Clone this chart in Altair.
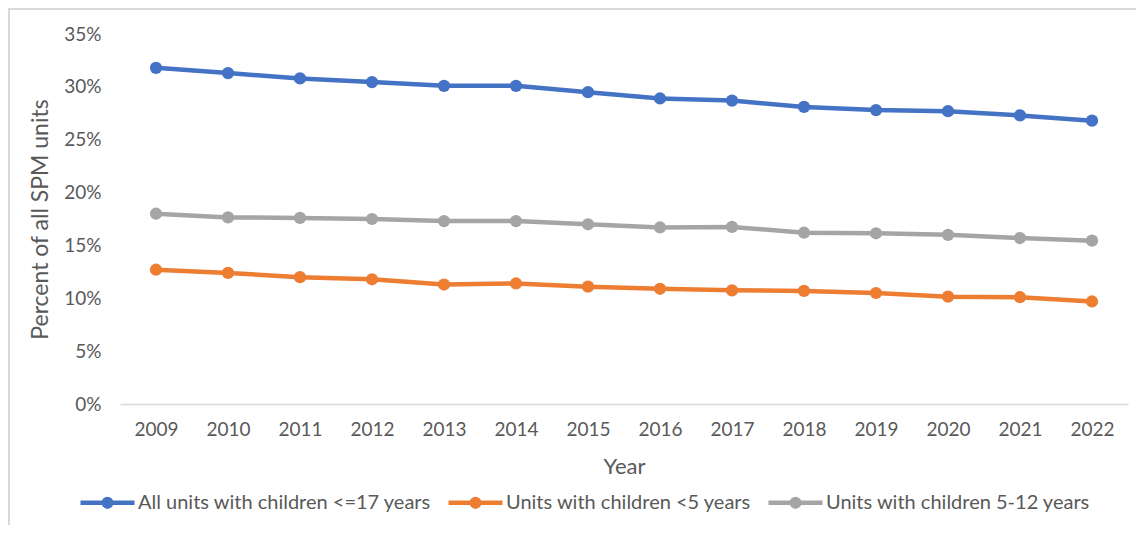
import altair as alt
import pandas as pd

years = [str(y) for y in range(2009, 2023)]
series_names = [
    "All units with children <=17 years",
    "Units with children <5 years",
    "Units with children 5-12 years",
]
all_units = [31.8, 31.3, 30.8, 30.45, 30.1, 30.1, 29.5, 28.9, 28.7, 28.1, 27.8, 27.7, 27.3, 26.8]
under5 = [12.7, 12.4, 12.0, 11.8, 11.3, 11.4, 11.1, 10.9, 10.75, 10.7, 10.5, 10.15, 10.1, 9.7]
age5_12 = [18.0, 17.65, 17.6, 17.5, 17.3, 17.3, 17.0, 16.7, 16.75, 16.2, 16.15, 16.0, 15.7, 15.45]
colors = ["#4472C4", "#ED7D31", "#A5A5A5"]

rows = []
for name, vals in zip(series_names, [all_units, under5, age5_12]):
    for yr, v in zip(years, vals):
        rows.append({"Year": yr, "Series": name, "Value": v})
df = pd.DataFrame(rows)

FONT = "Lato"
TXT = "#595959"

x = alt.X(
    "Year:N",
    sort=years,
    scale=alt.Scale(type="point", padding=0.5),
    axis=alt.Axis(
        title="Year", labelAngle=0, ticks=False, domainColor="#d9d9d9", domainWidth=1.5,
        labelPadding=16, labelFontSize=19, labelColor=TXT, labelFont=FONT,
        titleFontSize=22, titleFont=FONT, titleColor=TXT, titleFontWeight="normal",
        titleY=62, titleBaseline="middle", grid=False,
    ),
)
y = alt.Y(
    "Value:Q",
    scale=alt.Scale(domain=[0, 35], nice=False),
    axis=alt.Axis(
        title="Percent of all SPM units", values=[0, 5, 10, 15, 20, 25, 30, 35],
        labelExpr="datum.value + '%'", domain=False, ticks=False, grid=False,
        labelPadding=19, labelFontSize=19, labelColor=TXT, labelFont=FONT,
        titleFontSize=23, titleFont=FONT, titleColor=TXT, titleFontWeight="normal",
        titleX=-80, titleY=185, titleAngle=-90, titleAlign="center", titleBaseline="middle",
    ),
)
cscale = alt.Scale(domain=series_names, range=colors)

# legend symbol: a horizontal stroke with a solid dot (two concentric stroked rings)
sym = ("M-1,0 L1,0 "
       "M-0.14,0 A0.14,0.14 0 1,0 0.14,0 A0.14,0.14 0 1,0 -0.14,0 "
       "M-0.06,0 A0.06,0.06 0 1,0 0.06,0 A0.06,0.06 0 1,0 -0.06,0")

chart_base = alt.Chart(df).mark_line(
    strokeWidth=4.5,
    point=alt.OverlayMarkDef(filled=True, size=150, opacity=1),
).encode(
    x=x, y=y,
    color=alt.Color(
        "Series:N", scale=cscale,
        legend=alt.Legend(
            title=None, orient="none", direction="horizontal",
            legendX=-42, legendY=439,
            symbolType=sym, symbolSize=2916, symbolStrokeWidth=4.5,
            labelFontSize=20, labelFont=FONT, labelColor=TXT, labelOffset=1,
            labelLimit=0, columnPadding=7,
        ),
    ),
)

frame_left = alt.Chart(df).mark_rule(color="#d9d9d9", strokeWidth=2).encode(
    x=alt.value(-111), y=alt.value(-26), y2=alt.value(500)
)
frame_top = alt.Chart(df).mark_rule(color="#d9d9d9", strokeWidth=2).encode(
    x=alt.value(-111), x2=alt.value(1030), y=alt.value(-25)
)

chart = alt.layer(frame_left, frame_top, chart_base).properties(
    width=1008, height=370,
    autosize=alt.AutoSizeParams(type="none"),
    padding={"left": 112, "top": 26, "right": 8, "bottom": 121},
    background="white",
).configure_view(stroke=None)

chart.save("out.html", embed_options={"renderer": "svg", "actions": False})
